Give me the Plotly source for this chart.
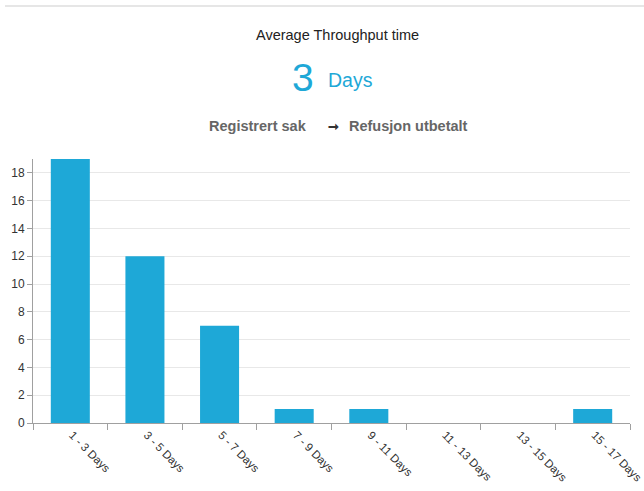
import plotly.graph_objects as go

categories = ["1 - 3 Days", "3 - 5 Days", "5 - 7 Days", "7 - 9 Days",
              "9 - 11 Days", "11 - 13 Days", "13 - 15 Days", "15 - 17 Days"]
counts = [19, 12, 7, 1, 1, 0, 0, 1]
y_ticks = [0, 2, 4, 6, 8, 10, 12, 14, 16, 18]

title_text = "Average Throughput time"
big_value = "3"
big_unit = "Days"
from_step = "Registrert sak"
to_step = "Refusjon utbetalt"

FONT = "Liberation Sans, Arial, sans-serif"
BLUE = "#1ea8d7"

L, R, T, B = 33, 630, 159, 423
W, H = 644, 491
PW, PH = R - L, B - T


def px(x):
    return (x - L) / PW


def py(y):
    return (B - y) / PH


fig = go.Figure(go.Bar(x=categories, y=counts, marker=dict(color=BLUE, line=dict(width=0))))

fig.update_layout(
    width=W, height=H,
    margin=dict(l=L, r=W - R, t=T, b=H - B, pad=0),
    paper_bgcolor="white", plot_bgcolor="white",
    bargap=0.477,
    showlegend=False,
    font=dict(family=FONT, color="#333", size=12),
)
fig.update_xaxes(
    type="category", tickangle=45, showgrid=False, automargin=False,
    showline=True, linecolor="#a0a0a0", linewidth=1,
    ticks="outside", tickson="boundaries", ticklen=6, tickcolor="#a0a0a0",
    tickfont=dict(size=11.5, color="#333"), ticklabelshift=2,
)
fig.update_yaxes(
    range=[0, 19], tickvals=y_ticks, showgrid=True, gridcolor="#e8e8e8", automargin=False,
    showline=True, linecolor="#a0a0a0", linewidth=1, zeroline=False,
    ticks="outside", ticklen=5, tickcolor="#a0a0a0",
    tickfont=dict(size=12, color="#333"),
)

ann = [
    dict(text=title_text, x=px(337), y=py(35), font=dict(size=14.5, color="#222"),
         xanchor="center", yanchor="middle"),
    dict(text=big_value, x=px(316), y=py(78), font=dict(size=39, color=BLUE),
         xanchor="right", yanchor="middle"),
    dict(text=big_unit, x=px(326), y=py(80), font=dict(size=19.5, color=BLUE),
         xanchor="left", yanchor="middle"),
    dict(text="<b>" + from_step + "</b>", x=px(309), y=py(126), font=dict(size=14.5, color="#666"),
         xanchor="right", yanchor="middle"),
    dict(text="<b>➞</b>", x=px(333), y=py(126), font=dict(size=13, color="#333"),
         xanchor="center", yanchor="middle"),
    dict(text="<b>" + to_step + "</b>", x=px(347), y=py(126), font=dict(size=14.5, color="#666"),
         xanchor="left", yanchor="middle"),
]
for a in ann:
    a.update(xref="paper", yref="paper", showarrow=False)
fig.update_layout(annotations=ann)

fig.add_shape(type="line", xref="paper", yref="paper",
              x0=px(5), x1=px(644), y0=py(6), y1=py(6),
              line=dict(color="#e6e6e6", width=2))

fig.write_html("out.html")
